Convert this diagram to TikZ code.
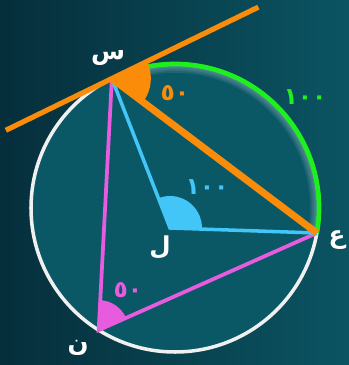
\documentclass[tikz,border=0pt]{standalone}
\usepackage{fontspec}
\newfontfamily\arabicfont[Script=Arabic]{DejaVu Sans}
\TeXXeTstate=1
\usepackage{tikz}
\usetikzlibrary{calc}
\definecolor{bgdark}{HTML}{062E3B}
\definecolor{bglight}{HTML}{0B5462}
\definecolor{diskteal}{HTML}{0A5866}
\definecolor{tanorange}{HTML}{FA8C0A}
\definecolor{arcgreen}{HTML}{1EF01E}
\definecolor{radcyan}{HTML}{42C5F7}
\definecolor{chordpink}{HTML}{E75BDF}

\begin{document}
\begin{tikzpicture}[
    x=0.03cm, y=0.03cm,
    point_label/.style={text=white, inner sep=0pt, font=\arabicfont\bfseries\fontsize{21}{23}\selectfont},
    angle_label/.style={inner sep=0pt, font=\arabicfont\bfseries\fontsize{20}{22}\selectfont},
    circle_line/.style={draw=white!94!black, line width=3pt},
    radius_line/.style={draw=radcyan, line width=3pt},
    chord_line/.style={draw=chordpink, line width=3.2pt},
    tangent_line/.style={draw=tanorange, line width=4.4pt},
    main_chord/.style={draw=tanorange, line width=6pt}
]

% background
\useasboundingbox (0,0) rectangle (349,365);
\shade[left color=bgdark, right color=bglight] (0,0) rectangle (349,365);

% points on the circle
\coordinate (C) at (175,157);
\coordinate (S) at ($(C)+(116:144)$);
\coordinate (E) at ($(C)+(-10:144)$);
\coordinate (N) at ($(C)+(238:144)$);
\coordinate (L) at (170,137);
\coordinate (T1) at ($(S)+(206:118)$);
\coordinate (T2) at ($(S)+(26:163)$);

\fill[diskteal] (C) circle[radius=144];

% glow inside the arc
\begin{scope}
  \clip (S) arc[start angle=116, end angle=-10, radius=144] -- cycle;
  \foreach \w in {3,6,...,15}
    \draw[white, opacity=0.08, line width=\w pt] (C) circle[radius=144];
\end{scope}

\draw[circle_line] (C) circle[radius=144];
\draw[arcgreen, line width=4pt] (E) arc[start angle=-10, end angle=112, radius=144];

% inscribed angle
\fill[chordpink] (N) -- ++(24:30) arc[start angle=24, end angle=87, radius=30] -- cycle;
\draw[chord_line] (S) -- (N) -- (E);

% central angle
\fill[radcyan] (L) -- ++(-2:32) arc[start angle=-2, end angle=111, radius=32] -- cycle;
\draw[radius_line] (S) -- (L) -- (E);

% tangent and chord
\draw[main_chord] (S) -- (E);
\draw[tangent_line] (T1) -- (T2);
\fill[tanorange] (S) -- ++(-37:39) arc[start angle=-37, end angle=26, radius=39] -- cycle;

% labels
\node[point_label] (lS) at (108,307) {\beginR س\endR};
\node[point_label] (lL) at (160,118) {\beginR ل\endR};
\node[point_label] (lE) at (337,125) {\beginR ع\endR};
\node[point_label] (lN) at (78,17) {\beginR ن\endR};

\node[angle_label, text=tanorange] (aS) at (175,272) {٥٠};
\node[angle_label, text=arcgreen] (aArc) at (305,268) {١٠٠};
\node[angle_label, text=radcyan] (aL) at (207,178) {١٠٠};
\node[angle_label, text=chordpink] (aN) at (128,75) {٥٠};

\end{tikzpicture}
\end{document}
